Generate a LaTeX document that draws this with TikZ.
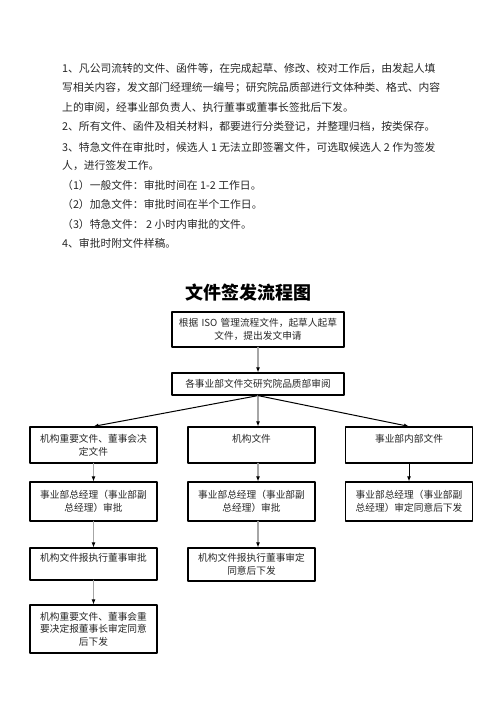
\documentclass[tikz,border=0pt]{standalone}
\usepackage{fontspec}
\setmainfont{Noto Sans CJK SC}
\usetikzlibrary{arrows.meta}

\begin{document}
\begin{tikzpicture}[x=1pt,y=-1pt,line cap=round,line join=round,
txt/.style={anchor=west,inner sep=0pt,text=black!85,font=\fontsize{10.8}{10.8}\selectfont},
box/.style={draw,line width=1.2pt,align=center,inner sep=0pt,text=black!85,text width=124pt,minimum width=127pt,font=\fontsize{9.7}{12.7}\selectfont},
flow/.style={gray!70,line width=1.8pt,-{Latex[black,length=5pt,width=4pt]}},
diag/.style={black,line width=1pt,-{Latex[length=5pt,width=4pt]}}]
\useasboundingbox (0,0) rectangle (496,702);
\node[txt] (p1) at (62,68) {1、凡公司流转的文件、函件等，在完成起草、修改、校对工作后，由发起人填};
\node[txt] (p2) at (62,88) {写相关内容，发文部门经理统一编号；研究院品质部进行文体种类、格式、内容};
\node[txt] (p3) at (62,107) {上的审阅，经事业部负责人、执行董事或董事长签批后下发。};
\node[txt] (p4) at (62,127) {2、所有文件、函件及相关材料，都要进行分类登记，并整理归档，按类保存。};
\node[txt] (p5) at (62,147) {3、特急文件在审批时，候选人 1 无法立即签署文件，可选取候选人 2 作为签发};
\node[txt] (p6) at (62,166) {人，进行签发工作。};
\node[txt] (p7) at (62,185) {（1）一般文件：审批时间在 1-2 工作日。};
\node[txt] (p8) at (62,204) {（2）加急文件：审批时间在半个工作日。};
\node[txt] (p9) at (62,224) {（3）特急文件：\ 2 小时内审批的文件。};
\node[txt] (p10) at (62,243) {4、审批时附文件样稿。};
\node[font=\bfseries\fontsize{18}{18}\selectfont] (title) at (248,293) {文件签发流程图};
% flow chart
\node[box,minimum width=172pt,text width=168pt,minimum height=35pt] (draft) at (258,329.5) {根据 ISO 管理流程文件，起草人起草\\文件，提出发文申请};
\node[box,minimum width=172pt,text width=168pt,minimum height=22pt] (review) at (258,384) {各事业部文件交研究院品质部审阅};
\node[box,minimum height=36pt] (ta) at (93.5,445) {机构重要文件、董事会决\\定文件};
\node[box,minimum height=36pt] (tb) at (251.5,445) {机构文件\\~};
\node[box,minimum height=36pt] (tc) at (409,445) {事业部内部文件\\~};
\node[box,minimum height=39pt] (ma) at (93.5,501.5) {事业部总经理（事业部副\\总经理）审批};
\node[box,minimum height=39pt] (mb) at (251.5,501.5) {事业部总经理（事业部副\\总经理）审批};
\node[box,minimum height=39pt] (mc) at (409,501.5) {事业部总经理（事业部副\\总经理）审定同意后下发};
\node[box,minimum height=32pt] (ea) at (93.5,564) {机构文件报执行董事审批\\~};
\node[box,minimum height=33pt] (eb) at (251.5,564.5) {机构文件报执行董事审定\\同意后下发};
\node[box,minimum height=48pt] (ca) at (93.5,629) {机构重要文件、董事会重\\要决定报董事长审定同意\\后下发};
\draw[flow] (draft) -- (review);
\draw[diag] (review.south) -- (ta.north);
\draw[flow] (review.south) -- (review.south |- tb.north);
\draw[diag] (review.south) -- (tc.north);
\draw[flow] (ta) -- (ma);
\draw[flow] (review.south |- tb.south) -- (review.south |- mb.north);
\draw[diag] (tc) -- (mc);
\draw[flow] (ma) -- (ea);
\draw[flow] (review.south |- mb.south) -- (review.south |- eb.north);
\draw[flow] (ea) -- (ca);
\end{tikzpicture}
\end{document}
